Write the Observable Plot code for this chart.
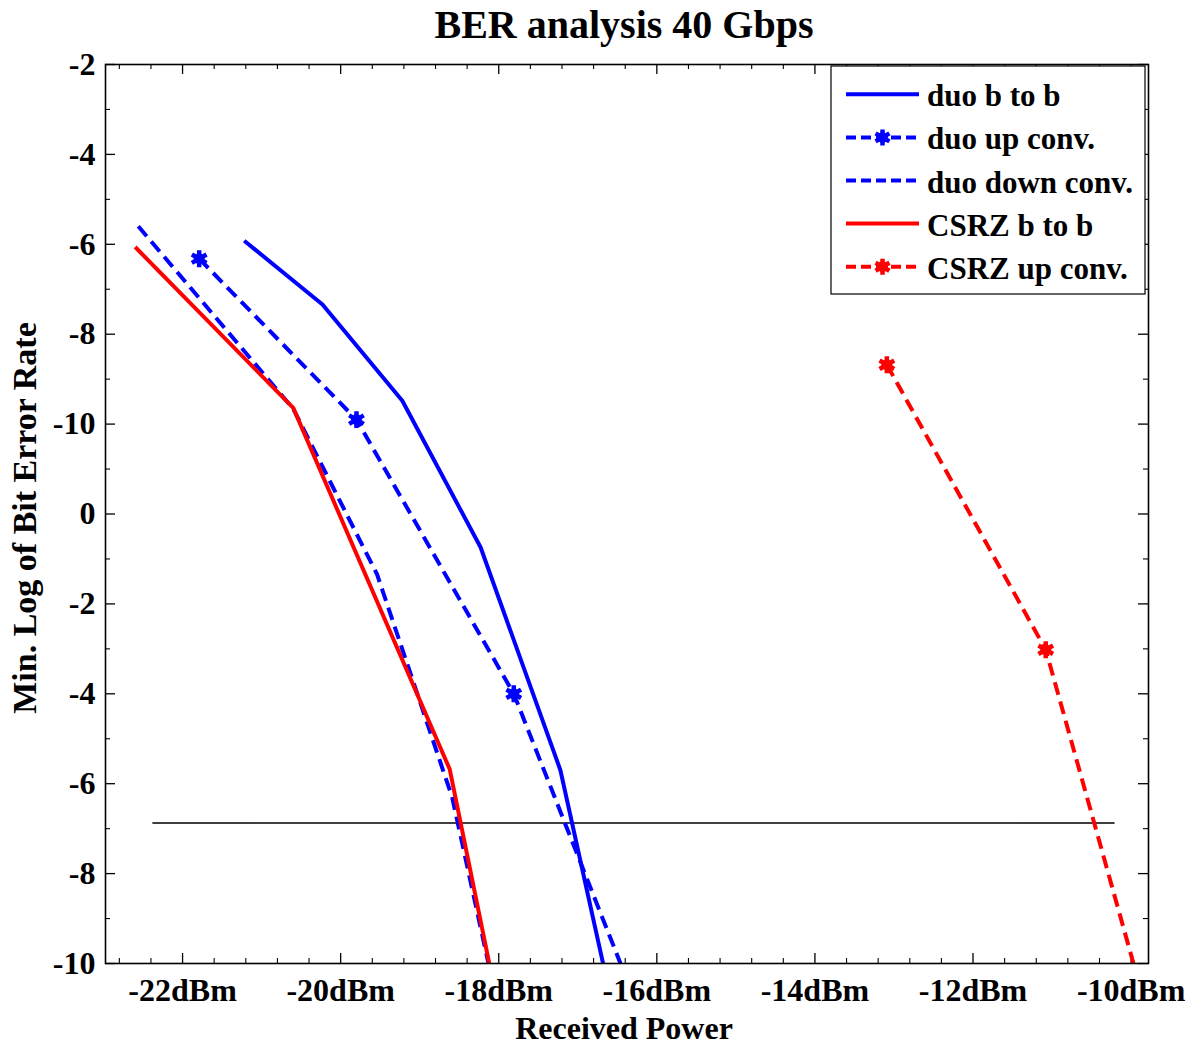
<!DOCTYPE html>
<html>
<head>
<meta charset="utf-8">
<script src="https://cdn.jsdelivr.net/npm/d3@7"></script>
<script src="https://cdn.jsdelivr.net/npm/@observablehq/plot@0.6"></script>
<style>
  html, body { margin: 0; padding: 0; background: #fff; }
  #chart { width: 1189px; height: 1046px; }
</style>
</head>
<body>
<div id="chart"></div>
<script>
// ---------------- data ----------------
const title = "BER analysis 40 Gbps";
const xLabel = "Received Power";
const yLabel = "Min. Log of Bit Error Rate";

const xTicks = [-22, -20, -18, -16, -14, -12, -10];
const xMinorTicks = [-22.8, -22.4, -21.6, -21.2, -20.8, -20.4, -19.6, -19.2, -18.8, -18.4,
  -17.6, -17.2, -16.8, -16.4, -15.6, -15.2, -14.8, -14.4, -13.6, -13.2, -12.8, -12.4,
  -11.6, -11.2, -10.8, -10.4];
const yTicks = [10, 9, 8, 7, 6, 5, 4, 3, 2, 1, 0];
const yTickLabels = ["-2", "-4", "-6", "-8", "-10", "0", "-2", "-4", "-6", "-8", "-10"];
const yMinorTicks = [0.5, 1.5, 2.5, 3.5, 4.5, 5.5, 6.5, 7.5, 8.5, 9.5];

const seriesNames = ["duo b to b", "duo up conv.", "duo down conv.", "CSRZ b to b", "CSRZ up conv."];
const seriesColors = ["#0000ff", "#0000ff", "#0000ff", "#ff0000", "#ff0000"];
const seriesDashed = [false, true, true, false, true];
const seriesMarked = [false, true, false, false, true];

const duoBBx = [-21.22, -20.23, -19.22, -18.23, -17.22, -16.68];
const duoBBy = [8.04, 7.33, 6.26, 4.63, 2.15, 0];

const duoUpx = [-21.79, -19.80, -17.81, -16.46];
const duoUpy = [7.84, 6.05, 3.00, 0];
const duoUpMarked = [true, true, true, false];

const duoDownx = [-22.56, -20.60, -19.54, -18.59, -18.13];
const duoDowny = [8.20, 6.17, 4.33, 1.85, 0];

const csrzBBx = [-22.60, -20.60, -18.62, -18.12];
const csrzBBy = [7.97, 6.18, 2.16, 0];

const csrzUpx = [-13.09, -11.08, -9.97];
const csrzUpy = [6.66, 3.49, 0];
const csrzUpMarked = [true, true, false];

const refLineX = [-22.376, -10.215];
const refLineY = [1.563, 1.563];

// ---------------- build ----------------
const W = 1189, H = 1046;
const mTop = 64, mBottom = 83, mLeft = 105, mRight = 41;
const frameW = W - mLeft - mRight, frameH = H - mTop - mBottom;
const FONT = "'Liberation Serif', 'Times New Roman', serif";

const pts = (xs, ys, extra = {}) => xs.map((x, i) => ({x, y: ys[i], ...Object.fromEntries(Object.entries(extra).map(([k, v]) => [k, v[i]]))}));

const lineData = [
  pts(duoBBx, duoBBy),
  pts(duoUpx, duoUpy, {m: duoUpMarked}),
  pts(duoDownx, duoDowny),
  pts(csrzBBx, csrzBBy),
  pts(csrzUpx, csrzUpy, {m: csrzUpMarked})
];

const LW = 4, DASH = "13,7";
const lineMarks = [];
lineData.forEach((d, i) => {
  lineMarks.push(Plot.line(d, {x: "x", y: "y", stroke: seriesColors[i], strokeWidth: LW,
    strokeDasharray: seriesDashed[i] ? DASH : null, strokeLinejoin: "miter", strokeLinecap: "butt", clip: true}));
});
const markerMarks = [];
lineData.forEach((d, i) => {
  if (!seriesMarked[i]) return;
  const md = d.filter(p => p.m);
  markerMarks.push(Plot.dot(md, {x: "x", y: "y", symbol: "asterisk", r: 8, stroke: seriesColors[i], strokeWidth: 4.5}));
  markerMarks.push(Plot.dot(md, {x: "x", y: "y", r: 5.5, fill: seriesColors[i]}));
});

const chart = Plot.plot({
  width: W, height: H,
  marginTop: mTop, marginBottom: mBottom, marginLeft: mLeft, marginRight: mRight,
  style: {fontFamily: FONT, fontWeight: "bold", fontSize: "32px", background: "#fff", color: "#000"},
  x: {domain: [-22.975, -9.78], axis: null},
  y: {domain: [0, 10], axis: null},
  marks: [
    // tick labels
    Plot.axisX({ticks: xTicks, tickSize: 0, tickPadding: 15, label: null, tickFormat: d => `${d}dBm`, fontSize: 32, fontWeight: "bold"}),
    Plot.axisY({ticks: yTicks, tickSize: 0, tickPadding: 10, label: null, tickFormat: d => yTickLabels[yTicks.indexOf(d)], fontSize: 32, fontWeight: "bold"}),
    // inward ticks, bottom and top
    Plot.tickX(xTicks, {x: d => d, insetTop: frameH - 10, strokeWidth: 1.3}),
    Plot.tickX(xMinorTicks, {x: d => d, insetTop: frameH - 5, strokeWidth: 1.1}),
    Plot.tickX(xTicks, {x: d => d, insetBottom: frameH - 10, strokeWidth: 1.3}),
    Plot.tickX(xMinorTicks, {x: d => d, insetBottom: frameH - 5, strokeWidth: 1.1}),
    // inward ticks, left and right
    Plot.tickY(yTicks, {y: d => d, insetRight: frameW - 10, strokeWidth: 1.3}),
    Plot.tickY(yMinorTicks, {y: d => d, insetRight: frameW - 5, strokeWidth: 1.1}),
    Plot.tickY(yTicks, {y: d => d, insetLeft: frameW - 10, strokeWidth: 1.3}),
    Plot.tickY(yMinorTicks, {y: d => d, insetLeft: frameW - 5, strokeWidth: 1.1}),
    // reference line
    Plot.line(pts(refLineX, refLineY), {x: "x", y: "y", stroke: "#000", strokeWidth: 1.3}),
    ...lineMarks,
    ...markerMarks,
    Plot.frame({stroke: "#000", strokeWidth: 1.6}),
    // titles
    Plot.text([title], {frameAnchor: "top", dy: -39, dx: -3, fontSize: 40, fontWeight: "bold", lineAnchor: "middle", textAnchor: "middle"}),
    Plot.text([xLabel], {frameAnchor: "bottom", dy: 65, dx: -3, fontSize: 32, fontWeight: "bold", lineAnchor: "middle", textAnchor: "middle"}),
    Plot.text([yLabel], {frameAnchor: "left", dx: -80, dy: 4, rotate: -90, fontSize: 34, fontWeight: "bold", lineAnchor: "middle", textAnchor: "middle"})
  ]
});

document.getElementById("chart").appendChild(chart);

// ---------------- legend (drawn inside the same SVG) ----------------
const svg = d3.select(chart);
const lg = svg.append("g").attr("class", "legend").attr("font-family", FONT).attr("font-weight", "bold")
  .attr("text-anchor", "start");
const box = {x0: 831, y0: 66, x1: 1145, y1: 294};
lg.append("rect").attr("x", box.x0).attr("y", box.y0).attr("width", box.x1 - box.x0).attr("height", box.y1 - box.y0)
  .attr("fill", "#fff").attr("stroke", "#000").attr("stroke-width", 1.2);
const rowY0 = 94.3, rowStep = 43.1;
seriesNames.forEach((name, i) => {
  const y = rowY0 + i * rowStep;
  lg.append("line").attr("x1", 846).attr("x2", 919).attr("y1", y).attr("y2", y)
    .attr("stroke", seriesColors[i]).attr("stroke-width", LW)
    .attr("stroke-dasharray", seriesDashed[i] ? "10,5" : null);
  if (seriesMarked[i]) {
    const path = d3.symbol(d3.symbolAsterisk, 180)();
    lg.append("path").attr("d", path).attr("transform", `translate(882.5,${y})`)
      .attr("fill", "none").attr("stroke", seriesColors[i]).attr("stroke-width", 4.5);
    lg.append("circle").attr("cx", 882.5).attr("cy", y).attr("r", 5.5).attr("fill", seriesColors[i]);
  }
  lg.append("text").attr("x", 927).attr("y", y + 12).attr("font-size", 31).attr("fill", "#000")
    .attr("text-anchor", "start").text(name);
});
</script>
</body>
</html>
